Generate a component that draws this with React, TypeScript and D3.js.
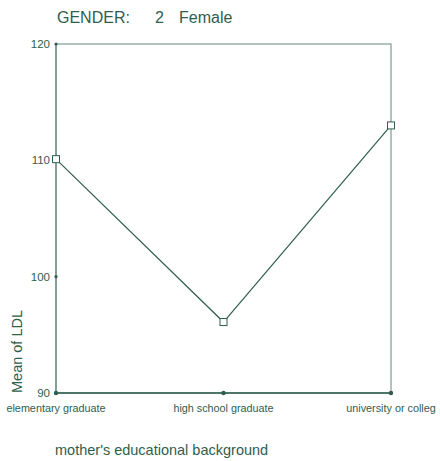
import React from "react";
import * as d3 from "d3";

const categories = ["elementary graduate", "high school graduate", "university or colleg"];
const meanLDL = [110.1, 96.1, 113.0];
const yTicks = [90, 100, 110, 120];

const W = 440;
const H = 461;
const FONT = "'Liberation Sans Narrow', 'Arial Narrow', 'Liberation Sans', sans-serif";
const INK = "#2f5e4d";
const FRAME = "#7c9d8f";

const App = () => {
  const left = 56;
  const right = 391;
  const top = 44;
  const bottom = 393;

  const x = d3.scalePoint<string>().domain(categories).range([left, right]);
  const y = d3.scaleLinear().domain([90, 120]).range([bottom, top]);

  const line = d3
    .line<number>()
    .x((_, i) => x(categories[i]) as number)
    .y((d) => y(d));

  return (
    <svg
      width={W}
      height={H}
      style={{ position: "absolute", left: 0, top: 0, background: "#fff" }}
      fontFamily={FONT}
    >
      <text x={57} y={23} fontSize={16} fill={INK}>
        GENDER:
      </text>
      <text x={155} y={23} fontSize={16} fill={INK}>
        2
      </text>
      <text x={179} y={23} fontSize={16} fill={INK}>
        Female
      </text>

      <rect x={left} y={top} width={right - left} height={bottom - top} fill="none" stroke={FRAME} strokeWidth={1.2} />
      <line x1={left} x2={right} y1={bottom} y2={bottom} stroke={INK} strokeWidth={1.4} />
      <line x1={left} x2={left} y1={top} y2={bottom} stroke={INK} strokeWidth={1} strokeOpacity={0.7} />

      {yTicks.map((t) => (
        <g key={t}>
          <circle cx={left} cy={y(t)} r={1.6} fill={INK} />
          <text x={left - 6} y={y(t) + 4} fontSize={11.5} textAnchor="end" fill={INK}>
            {t}
          </text>
        </g>
      ))}

      {categories.map((c) => (
        <g key={c}>
          <circle cx={x(c)} cy={bottom} r={2.2} fill={INK} />
          <text x={x(c)} y={bottom + 19} fontSize={10.8} textAnchor="middle" fill={INK}>
            {c}
          </text>
        </g>
      ))}

      <path d={line(meanLDL) ?? ""} fill="none" stroke={INK} strokeWidth={1.2} />
      {meanLDL.map((v, i) => (
        <rect
          key={i}
          x={(x(categories[i]) as number) - 3.5}
          y={y(v) - 3.5}
          width={7}
          height={7}
          fill="#fff"
          stroke={INK}
          strokeWidth={1}
        />
      ))}

      <text
        transform={`translate(22, ${bottom}) rotate(-90)`}
        fontSize={14.5}
        fill={INK}
      >
        Mean of LDL
      </text>
      <text x={55} y={455} fontSize={14.5} fill={INK}>
        mother's educational background
      </text>
    </svg>
  );
};

export default App;
